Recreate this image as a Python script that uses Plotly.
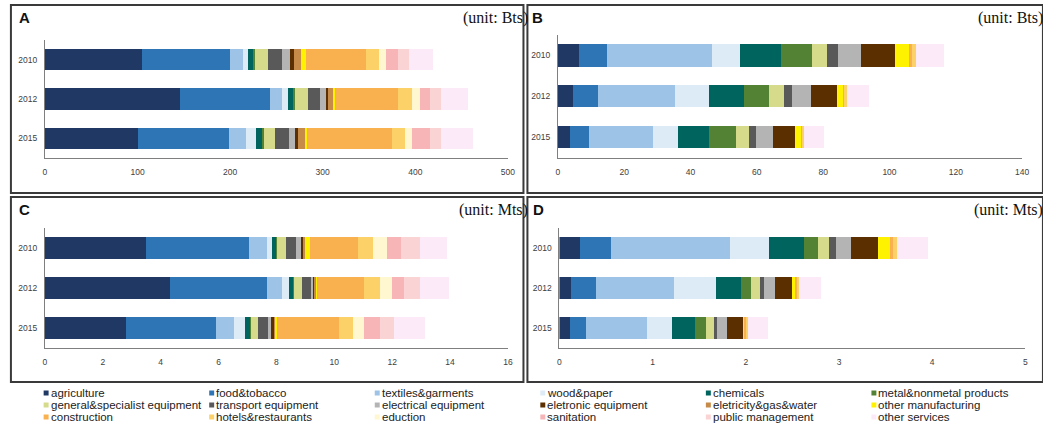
import plotly.graph_objects as go

W, H = 1043, 426

years = ["2010", "2012", "2015"]

sectors = [
    "agriculture", "food&tobacco", "textiles&garments", "wood&paper", "chemicals",
    "metal&nonmetal products", "general&specialist equipment", "transport equipment",
    "electrical equipment", "eletronic equipment", "eletricity&gas&water",
    "other manufacturing", "construction", "hotels&restaurants", "eduction",
    "sanitation", "public management", "other services",
]

colors = [
    "#1F3864", "#2E75B6", "#9DC3E6", "#DDEBF7", "#00645E", "#548235",
    "#D5DB8B", "#595959", "#B4B4B4", "#5B2F00", "#C68B48", "#FFF200",
    "#F9B04F", "#FCD167", "#FFF7CF", "#F7B5B8", "#FAD3D4", "#FCEAF8",
]

# Panel A (unit: Bts)
A_2010 = [104.3, 95.7, 14.0, 5.3, 5.3, 2.2, 13.9, 15.4, 8.9, 3.5, 7.9, 6.0, 64.2, 14.3, 7.5, 12.8, 12.1, 25.7]
A_2012 = [145.4, 97.2, 13.5, 6.0, 6.1, 2.2, 13.9, 12.8, 6.1, 2.5, 5.6, 1.8, 68.5, 15.3, 7.9, 11.4, 11.1, 29.1]
A_2015 = [100.0, 98.6, 19.0, 10.0, 7.8, 0.8, 12.4, 15.3, 6.5, 3.2, 7.5, 2.4, 91.0, 14.2, 8.2, 18.6, 12.5, 34.0]

# Panel B (unit: Bts)
B_2010 = [6.4, 8.3, 31.7, 8.4, 12.4, 9.3, 4.7, 3.2, 7.0, 10.3, 0.0, 4.2, 0.8, 1.2, 0.0, 0.0, 0.0, 8.4]
B_2012 = [4.5, 7.5, 23.3, 10.3, 10.4, 7.7, 4.6, 2.3, 5.6, 8.0, 0.0, 1.9, 0.4, 0.6, 0.0, 0.0, 0.0, 6.6]
B_2015 = [3.8, 5.6, 19.4, 7.5, 9.3, 8.1, 4.0, 1.9, 5.4, 6.6, 0.0, 1.7, 0.4, 0.5, 0.0, 0.0, 0.0, 6.1]

# Panel C (unit: Mts)
C_2010 = [3.50, 3.56, 0.60, 0.18, 0.16, 0.03, 0.29, 0.35, 0.19, 0.09, 0.05, 0.17, 1.66, 0.50, 0.50, 0.46, 0.66, 0.95]
C_2012 = [4.31, 3.37, 0.51, 0.23, 0.17, 0.03, 0.26, 0.30, 0.08, 0.07, 0.04, 0.02, 1.65, 0.54, 0.42, 0.41, 0.56, 1.00]
C_2015 = [2.80, 3.12, 0.62, 0.37, 0.20, 0.02, 0.25, 0.32, 0.13, 0.08, 0.07, 0.04, 2.16, 0.47, 0.39, 0.54, 0.50, 1.06]

# Panel D (unit: Mts)
D_2010 = [0.22, 0.33, 1.28, 0.42, 0.37, 0.15, 0.12, 0.08, 0.16, 0.29, 0.0, 0.13, 0.03, 0.04, 0.0, 0.0, 0.0, 0.34]
D_2012 = [0.12, 0.27, 0.84, 0.45, 0.27, 0.11, 0.09, 0.05, 0.11, 0.19, 0.0, 0.04, 0.015, 0.02, 0.0, 0.0, 0.0, 0.23]
D_2015 = [0.11, 0.18, 0.65, 0.27, 0.24, 0.12, 0.085, 0.035, 0.11, 0.17, 0.0, 0.025, 0.013, 0.015, 0.0, 0.0, 0.0, 0.21]

panel_letters = ["A", "B", "C", "D"]
panel_units = ["(unit: Bts)", "(unit: Bts)", "(unit: Mts)", "(unit: Mts)"]
x_ranges = [[0, 500], [0, 140], [0, 16], [0, 5]]
x_dticks = [100, 20, 2, 1]


def px(x):
    return x / W


def py(y):
    return 1 - y / H


panels = [
    (A_2010, A_2012, A_2015),
    (B_2010, B_2012, B_2015),
    (C_2010, C_2012, C_2015),
    (D_2010, D_2012, D_2015),
]

# pixel layout of the four plot areas: (x0, x1, ytop, ybottom)
areas = [
    (43.3, 510.3, 40, 158),
    (560.7, 1029, 35, 157.5),
    (43.3, 510.3, 228, 348),
    (562.3, 1032.3, 228, 348),
]

fig = go.Figure()

for p, (v10, v12, v15) in enumerate(panels):
    xa = "x" if p == 0 else f"x{p + 1}"
    ya = "y" if p == 0 else f"y{p + 1}"
    for i, name in enumerate(sectors):
        fig.add_trace(go.Bar(
            y=years, x=[v10[i], v12[i], v15[i]], orientation="h",
            name=name, marker=dict(color=colors[i], line=dict(width=0)),
            width=0.55, xaxis=xa, yaxis=ya, showlegend=False,
        ))

tick_font = dict(family="Liberation Sans, Arial, sans-serif", size=8.5, color="#404040")

layout = dict(
    width=W, height=H, margin=dict(l=0, r=0, t=0, b=0),
    paper_bgcolor="white", plot_bgcolor="white",
    barmode="stack", bargap=0.45, showlegend=False,
)

for p in range(4):
    x0, x1, yt, yb = areas[p]
    sfx = "" if p == 0 else str(p + 1)
    layout["xaxis" + sfx] = dict(
        domain=[px(x0), px(x1)], range=x_ranges[p], dtick=x_dticks[p], tick0=0,
        showgrid=False, zeroline=False, showline=True, linecolor="#7F7F7F", linewidth=1,
        ticks="outside", ticklen=6, tickcolor="rgba(0,0,0,0)", tickfont=tick_font,
        anchor="y" + sfx, fixedrange=True,
    )
    layout["yaxis" + sfx] = dict(
        domain=[py(yb), py(yt)], type="category", categoryorder="array",
        categoryarray=years, autorange="reversed",
        showgrid=False, zeroline=False, showline=True, linecolor="#7F7F7F", linewidth=1,
        ticks="outside", ticklen=5, tickcolor="rgba(0,0,0,0)", tickfont=tick_font,
        anchor="x" + sfx, fixedrange=True,
    )

fig.update_layout(**layout)

# Panel frames
frames = [(9, 526, 5, 193), (530, 1050, 5, 193), (9, 526, 197, 382), (530, 1050, 197, 382)]
shapes = []
for (fx0, fx1, fy0, fy1) in frames:
    shapes.append(dict(type="rect", xref="paper", yref="paper",
                       x0=px(fx0), x1=px(fx1), y0=py(fy1), y1=py(fy0),
                       line=dict(color="#3A3A3A", width=2), fillcolor="rgba(0,0,0,0)"))

annotations = []
letter_pos = [(15, 17), (533, 17), (15, 209), (534, 209)]
unit_pos = [(533, 18), (1052, 18), (533, 210), (1052, 210)]
for p in range(4):
    lx, ly = letter_pos[p]
    annotations.append(dict(text="<b>" + panel_letters[p] + "</b>", x=px(lx), y=py(ly),
                            xref="paper", yref="paper", xanchor="left", yanchor="middle",
                            showarrow=False,
                            font=dict(family="Liberation Sans, Arial, sans-serif", size=15, color="#111111")))
    ux, uy = unit_pos[p]
    annotations.append(dict(text=panel_units[p], x=px(ux), y=py(uy),
                            xref="paper", yref="paper", xanchor="right", yanchor="middle",
                            showarrow=False,
                            font=dict(family="Liberation Serif, Times New Roman, serif", size=16, color="#111111")))

# Legend (3 rows x 6 columns)
col_x = 42
col_w = 167
row_y0 = 393
row_h = 12
for i, name in enumerate(sectors):
    c, r = i % 6, i // 6
    mx = col_x + c * col_w
    my = row_y0 + r * row_h
    shapes.append(dict(type="rect", xref="paper", yref="paper",
                       x0=px(mx), x1=px(mx + 5), y0=py(my + 2.5), y1=py(my - 2.5),
                       line=dict(width=0), fillcolor=colors[i]))
    annotations.append(dict(text=name, x=px(mx + 5), y=py(my), xref="paper", yref="paper",
                            xanchor="left", yanchor="middle", showarrow=False,
                            font=dict(family="Liberation Sans, Arial, sans-serif", size=11.5, color="#222222")))

fig.update_layout(shapes=shapes, annotations=annotations)

fig.write_html(
    "out.html",
    config={"displayModeBar": False},
    post_script="document.body.style.margin='0';document.body.style.overflow='hidden';",
)
